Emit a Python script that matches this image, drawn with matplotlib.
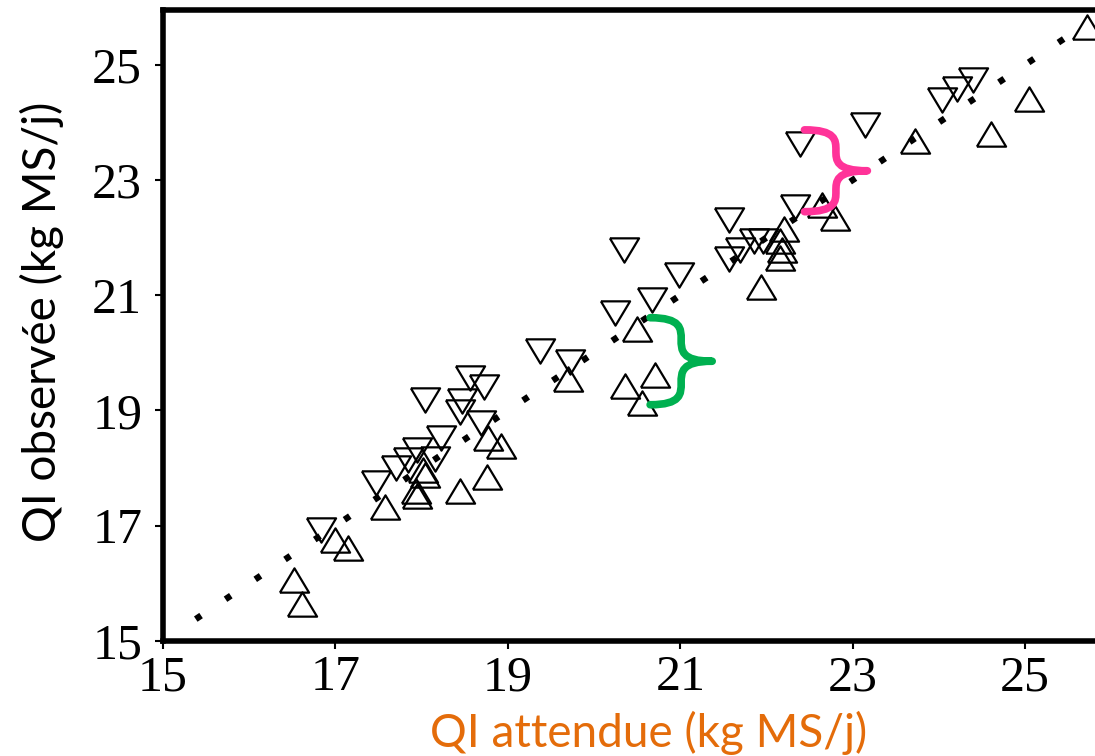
import matplotlib
matplotlib.use("Agg")
import matplotlib.pyplot as plt
from matplotlib.path import Path
from matplotlib.patches import PathPatch

# ---- data ----
up_x = [16.52, 16.61, 17.00, 17.14, 17.58, 17.93, 17.95, 18.02, 18.04, 18.45,
        18.76, 18.77, 18.92, 19.70, 20.36, 20.71, 20.56, 20.50, 21.94, 22.20,
        22.16, 22.18, 22.16, 22.64, 22.80, 23.72, 24.60, 25.04, 25.72]
up_y = [16.06, 15.64, 16.75, 16.62, 17.33, 17.61, 17.52, 17.97, 17.88, 17.60,
        17.85, 18.52, 18.39, 19.55, 19.43, 19.61, 19.13, 20.41, 21.15, 22.15,
        21.94, 21.78, 21.64, 22.57, 22.34, 23.67, 23.80, 24.40, 25.66]

down_x = [16.83, 17.47, 17.70, 17.84, 17.95, 18.16, 18.22, 18.04, 18.45, 18.47,
          18.56, 18.72, 18.69, 19.37, 19.72, 20.24, 20.67, 20.35, 20.99, 21.57,
          21.69, 21.86, 21.96, 21.57, 22.33, 22.39, 23.14, 24.04, 24.21, 24.39]
down_y = [16.93, 17.75, 18.00, 18.14, 18.32, 18.15, 18.52, 19.18, 18.98, 19.16,
          19.56, 19.41, 18.79, 20.03, 19.85, 20.69, 20.92, 21.79, 21.35, 21.63,
          21.79, 21.94, 21.94, 22.31, 22.53, 23.63, 23.95, 24.38, 24.58, 24.73]

identity_range = [15.38, 25.62]
ticks = [15, 17, 19, 21, 23, 25]
tick_labels = ["15", "17", "19", "21", "23", "25"]

green_brace_x = [20.65, 21.37]
green_brace_y = [19.10, 20.61]
pink_brace_x = [22.44, 23.17]
pink_brace_y = [22.45, 23.87]

xlabel = "QI attendue (kg MS/j)"
ylabel = "QI observée (kg MS/j)"

# ---- figure ----
W, H = 1095, 756
fig = plt.figure(figsize=(W / 100, H / 100), dpi=100)
ax = fig.add_axes([163 / W, 115 / H, 932 / W, 631 / H])
ax.set_xlim(15, 25.81)
ax.set_ylim(15, 25.95)

up_marker = [(-0.6, -0.5), (0.6, -0.5), (0.0, 0.5), (-0.6, -0.5)]
down_marker = [(-0.6, 0.5), (0.6, 0.5), (0.0, -0.5), (-0.6, 0.5)]

ax.plot(identity_range, identity_range, color="black", linewidth=4.6,
        linestyle=(0, (1, 4.6)), dash_capstyle="butt", zorder=3)

ax.plot(up_x, up_y, linestyle="none", marker=up_marker, markersize=21,
        markerfacecolor="none", markeredgecolor="black", markeredgewidth=1.6, zorder=2)
ax.plot(down_x, down_y, linestyle="none", marker=down_marker, markersize=21,
        markerfacecolor="none", markeredgecolor="black", markeredgewidth=1.6, zorder=2)


def brace(ax, xs, ys, color):
    x0, x1 = xs
    y0, y1 = ys
    ym = (y0 + y1) / 2
    verts = [(x0, y1), (x1, y1), (x0, ym), (x1, ym),
             (x0, ym), (x1, y0), (x0, y0)]
    codes = [Path.MOVETO] + [Path.CURVE4] * 6
    patch = PathPatch(Path(verts, codes), facecolor="none", edgecolor=color,
                      linewidth=5.5, capstyle="round", joinstyle="round", zorder=4)
    ax.add_patch(patch)


brace(ax, green_brace_x, green_brace_y, "#00B050")
brace(ax, pink_brace_x, pink_brace_y, "#FF3399")

ax.set_xticks(ticks)
ax.set_xticklabels(tick_labels)
ax.set_yticks(ticks)
ax.set_yticklabels(tick_labels)
ax.tick_params(direction="out", length=6, width=1.5, labelsize=36)
ax.tick_params(axis="x", pad=4)
ax.tick_params(axis="y", pad=9)
for lab in ax.get_xticklabels() + ax.get_yticklabels():
    lab.set_fontfamily("Liberation Serif")

for side in ["left", "bottom", "top"]:
    ax.spines[side].set_linewidth(4)
ax.spines["right"].set_visible(False)

fig.text(649 / W, 1 - 733 / H, xlabel, color="#E46C0A", fontsize=33,
         fontfamily="Lato", ha="center", va="center")
fig.text(42 / W, 1 - 322 / H, ylabel, color="black", fontsize=33,
         fontfamily="Lato", ha="center", va="center", rotation=90)

fig.savefig("out.png", dpi=100)
